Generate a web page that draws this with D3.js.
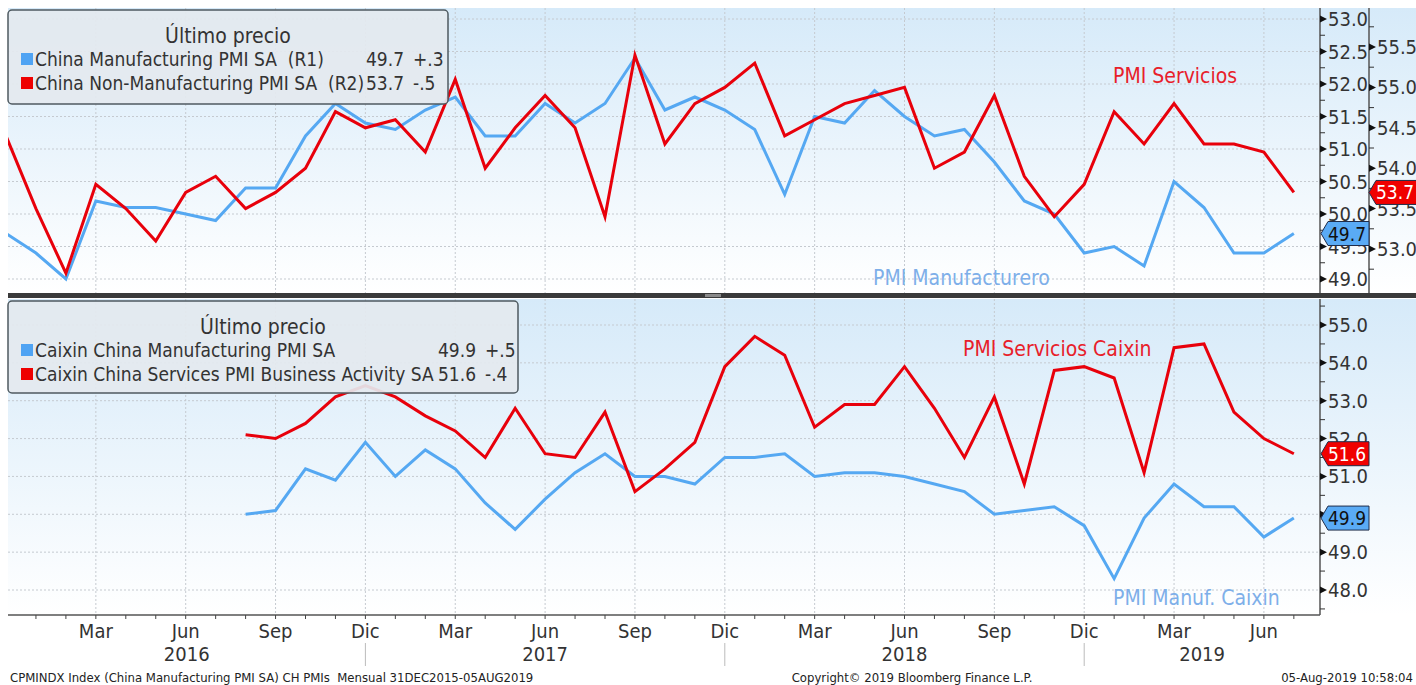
<!DOCTYPE html>
<html>
<head>
<meta charset="utf-8">
<script src="https://cdn.jsdelivr.net/npm/d3@7"></script>
<style>
	body { margin: 0; background: #fff; }
	.canvas { width: 1416px; height: 685px; }
	svg text { font-family: "Liberation Sans Narrow", "DejaVu Sans Condensed", "Roboto Condensed", sans-serif; white-space: pre; }
</style>
</head>
<body>
<div class="canvas"></div>
<script>

//months Dec 2015 - Jul 2019
const months = d3.timeMonth.range(new Date(2015, 11, 1), new Date(2019, 7, 1));
const monthNames = { 2: 'Mar', 5: 'Jun', 8: 'Sep', 11: 'Dic' };

//official PMI (NBS), from Dec 2015
const mfgPMI = [49.7,
	49.4, 49.0, 50.2, 50.1, 50.1, 50.0, 49.9, 50.4, 50.4, 51.2, 51.7, 51.4,
	51.3, 51.6, 51.8, 51.2, 51.2, 51.7, 51.4, 51.7, 52.4, 51.6, 51.8, 51.6,
	51.3, 50.3, 51.5, 51.4, 51.9, 51.5, 51.2, 51.3, 50.8, 50.2, 50.0, 49.4,
	49.5, 49.2, 50.5, 50.1, 49.4, 49.4, 49.7];
const nonMfgPMI = [54.4,
	53.5, 52.7, 53.8, 53.5, 53.1, 53.7, 53.9, 53.5, 53.7, 54.0, 54.7, 54.5,
	54.6, 54.2, 55.1, 54.0, 54.5, 54.9, 54.5, 53.4, 55.4, 54.3, 54.8, 55.0,
	55.3, 54.4, 54.6, 54.8, 54.9, 55.0, 54.0, 54.2, 54.9, 53.9, 53.4, 53.8,
	54.7, 54.3, 54.8, 54.3, 54.3, 54.2, 53.7];

//caixin PMI, from Aug 2016
const caixinStart = 8;
const caixinMfg = [50.0, 50.1, 51.2, 50.9, 51.9,
	51.0, 51.7, 51.2, 50.3, 49.6, 50.4, 51.1, 51.6, 51.0, 51.0, 50.8, 51.5,
	51.5, 51.6, 51.0, 51.1, 51.1, 51.0, 50.8, 50.6, 50.0, 50.1, 50.2, 49.7,
	48.3, 49.9, 50.8, 50.2, 50.2, 49.4, 49.9];
const caixinSvc = [52.1, 52.0, 52.4, 53.1, 53.4,
	53.1, 52.6, 52.2, 51.5, 52.8, 51.6, 51.5, 52.7, 50.6, 51.2, 51.9, 53.9,
	54.7, 54.2, 52.3, 52.9, 52.9, 53.9, 52.8, 51.5, 53.1, 50.8, 53.8, 53.9,
	53.6, 51.1, 54.4, 54.5, 52.7, 52.0, 51.6];

//tick labels
const r1Ticks = [49.0, 49.5, 50.0, 50.5, 51.0, 51.5, 52.0, 52.5, 53.0];
const r2Ticks = [53.0, 53.5, 54.0, 54.5, 55.0, 55.5];
const caixinTicks = [48.0, 49.0, 50.0, 51.0, 52.0, 53.0, 54.0, 55.0];

const W = 1416, H = 685;
const RED = '#e8000b', BLUE = '#55a8f2';
const plotL = 8, plotR = 1320;
const top1 = 8, bot1 = 293, top2 = 299, bot2 = 615;

const x = d3.scaleLinear().domain([0, months.length - 1]).range([6, 6 + 29.95 * (months.length - 1)]);
const yR1 = d3.scaleLinear().domain([49, 53]).range([279, 19]);
const yR2 = d3.scaleLinear().domain([53, 55.5]).range([249, 47]);
const yC = d3.scaleLinear().domain([48, 55]).range([590, 325]);

const canvas = d3.select('.canvas')
	.append('svg')
	.attr('width', W)
	.attr('height', H);

const defs = canvas.append('defs');
const grad = defs.append('linearGradient')
	.attr('id', 'bg').attr('x1', 0).attr('y1', 0).attr('x2', 0).attr('y2', 1);
grad.append('stop').attr('offset', '0%').attr('stop-color', '#d6eaf9');
grad.append('stop').attr('offset', '100%').attr('stop-color', '#ffffff');

defs.append('clipPath').attr('id', 'clip1')
	.append('rect').attr('x', plotL).attr('y', top1).attr('width', plotR - plotL).attr('height', bot1 - top1);
defs.append('clipPath').attr('id', 'clip2')
	.append('rect').attr('x', plotL).attr('y', top2).attr('width', plotR - plotL).attr('height', bot2 - top2);

//backgrounds
canvas.append('rect').attr('x', plotL).attr('y', top1).attr('width', W - plotL).attr('height', bot1 - top1).attr('fill', 'url(#bg)');
canvas.append('rect').attr('x', plotL).attr('y', top2).attr('width', W - plotL).attr('height', bot2 - top2).attr('fill', 'url(#bg)');

//grid
const quarters = months.map((m, i) => i).filter(i => i > 0 && monthNames[months[i].getMonth()]);
const grid = canvas.append('g')
	.attr('stroke', '#c5cad0')
	.attr('stroke-width', 1)
	.attr('stroke-dasharray', '2,2');

grid.selectAll('.vg1').data(quarters).enter().append('line')
	.attr('x1', d => x(d)).attr('x2', d => x(d)).attr('y1', top1).attr('y2', bot1);
grid.selectAll('.vg2').data(quarters).enter().append('line')
	.attr('x1', d => x(d)).attr('x2', d => x(d)).attr('y1', top2).attr('y2', bot2);
grid.selectAll('.hg1').data(r1Ticks).enter().append('line')
	.attr('x1', plotL).attr('x2', plotR).attr('y1', d => yR1(d)).attr('y2', d => yR1(d));
grid.selectAll('.hg2').data(caixinTicks).enter().append('line')
	.attr('x1', plotL).attr('x2', plotR).attr('y1', d => yC(d)).attr('y2', d => yC(d));

//lines
function drawLine(panel, data, offset, y, color) {
	const line = d3.line()
		.x((d, i) => x(i + offset))
		.y(d => y(d));
	panel.append('path')
		.datum(data)
		.attr('d', line)
		.attr('fill', 'none')
		.attr('stroke', color)
		.attr('stroke-width', 3)
		.attr('stroke-linejoin', 'miter');
}

const panel1 = canvas.append('g').attr('clip-path', 'url(#clip1)');
drawLine(panel1, mfgPMI, 0, yR1, BLUE);
drawLine(panel1, nonMfgPMI, 0, yR2, RED);

const panel2 = canvas.append('g').attr('clip-path', 'url(#clip2)');
drawLine(panel2, caixinMfg, caixinStart, yC, BLUE);
drawLine(panel2, caixinSvc, caixinStart, yC, RED);

//annotations
const notes = canvas.append('g').style('font-size', '21px');
notes.append('text').attr('x', 1113).attr('y', 83).attr('fill', '#e8202a').text('PMI Servicios');
notes.append('text').attr('x', 873).attr('y', 285).attr('fill', '#7eafe9').text('PMI Manufacturero');
notes.append('text').attr('x', 963).attr('y', 356).attr('fill', '#e8202a').text('PMI Servicios Caixin');
notes.append('text').attr('x', 1113).attr('y', 605).attr('fill', '#7eafe9').text('PMI Manuf. Caixin');

//right axes
function drawAxis(ticks, y, ax, y0, y1, minorStep) {
	const g = canvas.append('g');
	g.append('line').attr('x1', ax).attr('x2', ax).attr('y1', y0).attr('y2', y1)
		.attr('stroke', '#555').attr('stroke-width', 1.5);
	const minors = [];
	const [lo, hi] = y.domain();
	for (let v = lo - 2 * minorStep; v <= hi + 2 * minorStep; v += minorStep * 2) {
		minors.push(v + minorStep);
	}
	g.selectAll('.minor').data(minors.filter(v => y(v) > y0 + 2 && y(v) < y1 - 1)).enter().append('line')
		.attr('x1', ax).attr('x2', ax + 5).attr('y1', d => y(d)).attr('y2', d => y(d))
		.attr('stroke', '#333').attr('stroke-width', 1);
	g.selectAll('.major').data(ticks).enter().append('path')
		.attr('d', d => `M${ax},${y(d) - 3.5}L${ax + 7},${y(d)}L${ax},${y(d) + 3.5}Z`)
		.attr('fill', '#111');
	g.selectAll('.lbl').data(ticks).enter().append('text')
		.attr('x', ax + 8).attr('y', d => y(d) + 7)
		.style('font-size', '20px').attr('fill', '#333')
		.text(d => d3.format('.1f')(d));
}
drawAxis(r1Ticks, yR1, plotR, top1, bot1, 0.25);
drawAxis(r2Ticks, yR2, 1369, top1, bot1, 0.25);
drawAxis(caixinTicks, yC, plotR, top2, bot2, 0.5);

//last value tags
function tag(ax, yv, value, fill, textColor) {
	const g = canvas.append('g');
	g.append('path')
		.attr('d', `M${ax + 1},${yv}L${ax + 8},${yv - 12}L${ax + 49},${yv - 12}L${ax + 49},${yv + 12}L${ax + 8},${yv + 12}Z`)
		.attr('fill', fill).attr('stroke', '#1f2d4a').attr('stroke-width', 1);
	g.append('text').attr('x', ax + 27).attr('y', yv + 7)
		.attr('text-anchor', 'middle').style('font-size', '19px').attr('fill', textColor)
		.text(d3.format('.1f')(value));
}
tag(1368, yR2(nonMfgPMI[nonMfgPMI.length - 1]), nonMfgPMI[nonMfgPMI.length - 1], '#f00000', '#fff');
tag(plotR, yR1(mfgPMI[mfgPMI.length - 1]), mfgPMI[mfgPMI.length - 1], '#5aabf5', '#111');
tag(plotR, yC(caixinSvc[caixinSvc.length - 1]), caixinSvc[caixinSvc.length - 1], '#f00000', '#fff');
tag(plotR, yC(caixinMfg[caixinMfg.length - 1]), caixinMfg[caixinMfg.length - 1], '#5aabf5', '#111');

//separator between panels
canvas.append('rect').attr('x', plotL).attr('y', bot1).attr('width', W - plotL).attr('height', 5).attr('fill', '#3a3a3a');
canvas.append('rect').attr('x', 705).attr('y', bot1 + 1).attr('width', 16).attr('height', 3).attr('fill', '#8a8a8a');

//bottom time axis
const xa = canvas.append('g');
xa.append('line').attr('x1', plotL).attr('x2', plotR).attr('y1', bot2).attr('y2', bot2)
	.attr('stroke', '#555').attr('stroke-width', 1.5);
xa.selectAll('.mt').data(months.map((m, i) => i).filter(i => i > 0)).enter().append('line')
	.attr('x1', d => x(d)).attr('x2', d => x(d)).attr('y1', bot2).attr('y2', bot2 + 4)
	.attr('stroke', '#444');
xa.selectAll('.ml').data(quarters).enter().append('text')
	.attr('x', d => x(d)).attr('y', 638)
	.attr('text-anchor', 'middle').style('font-size', '20px').attr('fill', '#333')
	.text(d => monthNames[months[d].getMonth()]);

//year separators and labels
const decs = quarters.filter(i => months[i].getMonth() === 11);
xa.selectAll('.ys').data(decs).enter().append('line')
	.attr('x1', d => x(d)).attr('x2', d => x(d)).attr('y1', 643).attr('y2', 666)
	.attr('stroke', '#bbb');
const bounds = [plotL].concat(decs.map(d => x(d)), [plotR]);
const years = d3.range(bounds.length - 1).map(i => ({
	year: months[0].getFullYear() + 1 + i,
	cx: (bounds[i] + bounds[i + 1]) / 2
}));
xa.selectAll('.yl').data(years).enter().append('text')
	.attr('x', d => d.cx).attr('y', 661)
	.attr('text-anchor', 'middle').style('font-size', '20px').attr('fill', '#333')
	.text(d => d.year);

//legends
function chg(arr) {
	return d3.format('+.1f')(arr[arr.length - 1] - arr[arr.length - 2]).replace('0.', '.').replace('−', '-');
}
function legend(bx, by, bw, bh, rows, valEnd, chgStart) {
	const g = canvas.append('g');
	g.append('rect').attr('x', bx).attr('y', by).attr('width', bw).attr('height', bh)
		.attr('rx', 4).attr('fill', '#e4e9ef').attr('fill-opacity', 0.92)
		.attr('stroke', '#4f5a60').attr('stroke-width', 1.5);
	g.append('text').attr('x', bx + bw / 2).attr('y', by + 33)
		.attr('text-anchor', 'middle').style('font-size', '21px').attr('fill', '#333')
		.text('Último precio');
	rows.forEach((r, i) => {
		const cy = by + 49 + i * 24;
		g.append('rect').attr('x', bx + 13).attr('y', cy - 6).attr('width', 12).attr('height', 12).attr('fill', r.color);
		g.append('text').attr('x', bx + 27).attr('y', cy + 7).style('font-size', '19px').attr('fill', '#333').text(r.name);
		g.append('text').attr('x', valEnd).attr('y', cy + 7).attr('text-anchor', 'end')
			.style('font-size', '19px').attr('fill', '#333').text(d3.format('.1f')(r.data[r.data.length - 1]));
		g.append('text').attr('x', chgStart).attr('y', cy + 7)
			.style('font-size', '19px').attr('fill', '#333').text(chg(r.data));
	});
}
legend(8, 10, 440, 94, [
	{ name: 'China Manufacturing PMI SA  (R1)', color: '#4fa3f3', data: mfgPMI },
	{ name: 'China Non-Manufacturing PMI SA  (R2)', color: '#ee0000', data: nonMfgPMI }
], 404, 413);
legend(8, 301, 510, 92, [
	{ name: 'Caixin China Manufacturing PMI SA', color: '#4fa3f3', data: caixinMfg },
	{ name: 'Caixin China Services PMI Business Activity SA', color: '#ee0000', data: caixinSvc }
], 476, 485);

//footer
const foot = canvas.append('g').style('font-size', '13px').attr('fill', '#222');
foot.append('text').attr('x', 10).attr('y', 682).text('CPMINDX Index (China Manufacturing PMI SA) CH PMIs  Mensual 31DEC2015-05AUG2019');
foot.append('text').attr('x', 912).attr('y', 682).attr('text-anchor', 'middle').text('Copyright© 2019 Bloomberg Finance L.P.');
foot.append('text').attr('x', 1413).attr('y', 682).attr('text-anchor', 'end').text('05-Aug-2019 10:58:04');

</script>
</body>
</html>
